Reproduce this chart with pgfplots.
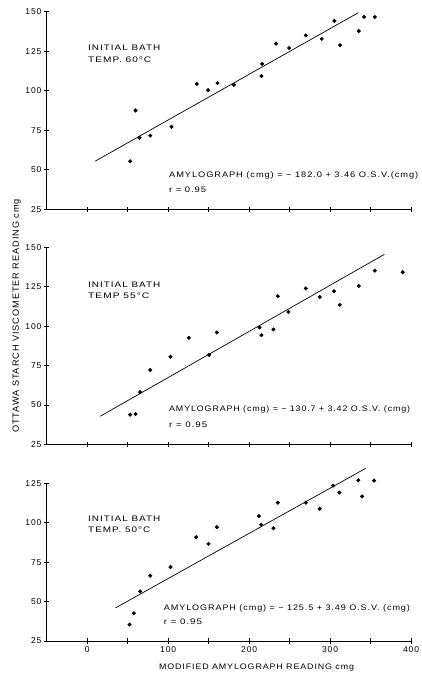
\documentclass[border=0pt]{standalone}
\usepackage{graphicx}
\usepackage{pgfplots}
\pgfplotsset{compat=1.18}
\usepackage{fontspec}
\setmainfont{Liberation Sans}[LetterSpace=10]
\newcommand{\fitw}[2]{\resizebox{#1}{\height}{#2}}
\begin{document}
\fontsize{8}{9}\selectfont
\pgfplotsset{
  panel/.style={
    scale only axis, width=364.3pt,
    axis lines=left, axis line style={-, line width=0.7pt},
    xmin=-50, xmax=400, ymin=25,
    xtick={0,50,...,400},
    tick align=center, major tick length=5pt,
    tick style={line width=0.7pt, black},
    every tick label/.append style={font=\fontsize{8.5}{9}\selectfont},
    /pgf/number format/assume math mode=true,
    clip=false,
  },
  pts/.style={only marks, mark=*, mark size=1.8pt, black},
  fit/.style={no marks, black, line width=0.7pt},
}
\tikzset{lab/.style={anchor=west, align=left, inner sep=0pt, font=\fontsize{8}{11.7}\selectfont}}
\begin{tikzpicture}[x=1pt,y=1pt]
\useasboundingbox (0,0) rectangle (415,674);
% ---- top panel (60 C)
\begin{axis}[panel, at={(40.7pt,464.7pt)}, anchor=south west, height=197.6pt,
  ymax=150, ytick={25,50,...,150}, xticklabels={}]
\addplot[pts] coordinates {
(53,55.4)(59.7,87.5)(64.6,70.2)(77.8,71.6)(104.1,77.2)(135.4,104.3)(149.4,100.4)
(160.9,104.8)(181.1,103.7)(215.2,109.3)(216,117)(233.3,129.8)(249.4,127)
(270,135)(289.7,132.8)(305.3,144.2)(312.3,128.8)(335.4,137.8)(342,146.7)(355.2,146.6)};
\addplot[fit] coordinates {(10,55.5)(335,149.4)};
\node[lab] at (axis cs:1,123.4) {\fitw{72pt}{INITIAL BATH}\\\fitw{63pt}{TEMP. 60°C}};
\node[lab] at (axis cs:101,46.7) {\fitw{249pt}{AMYLOGRAPH (cmg) = − 182.0 + 3.46 O.S.V.(cmg)}};
\node[lab] at (axis cs:101,37.2) {\fitw{37pt}{r = 0.95}};
\end{axis}
% ---- middle panel (55 C)
\begin{axis}[panel, at={(40.7pt,229.5pt)}, anchor=south west, height=197.2pt,
  ymax=150, ytick={25,50,...,150}, xticklabels={}]
\addplot[pts] coordinates {
(53.1,43.9)(59.7,44.3)(65.4,58.2)(77.8,72.2)(102.9,80.6)(125.5,92.6)(150.6,81.8)
(160.1,96)(212.8,99.2)(215.2,94.3)(230,97.9)(235.4,119)(248.5,109)(270,123.9)
(287.2,118.5)(304.9,122.2)(311.9,113.5)(335.4,125.5)(355.2,135.2)(389.7,134.2)};
\addplot[fit] coordinates {(16,42.9)(367,145.5)};
\node[lab] at (axis cs:1,122.8) {\fitw{72pt}{INITIAL BATH}\\\fitw{61pt}{TEMP 55°C}};
\node[lab] at (axis cs:101,47.5) {\fitw{241pt}{AMYLOGRAPH (cmg) = − 130.7 + 3.42 O.S.V. (cmg)}};
\node[lab] at (axis cs:101,37.3) {\fitw{38pt}{r = 0.95}};
\end{axis}
% ---- bottom panel (50 C)
\begin{axis}[panel, at={(40.7pt,33pt)}, anchor=south west, height=157.7pt,
  ymax=125, ytick={25,50,...,125}, xticklabels={0,,100,,200,,300,,400}]
\addplot[pts] coordinates {
(52.3,35.4)(57.6,42.6)(65.4,56.4)(77.8,66.4)(102.9,71.9)(134.6,90.8)(149.8,86.6)
(160.1,97.2)(212,104.2)(214.8,98.7)(230,96.5)(235.4,112.7)(270,112.7)(287.2,108.9)
(303.7,123.5)(311.5,119.1)(334.9,126.9)(339.5,116.7)(354.3,126.7)};
\addplot[fit] coordinates {(35,46.0)(344,134.5)};
\node[lab] at (axis cs:1,99) {\fitw{72pt}{INITIAL BATH}\\\fitw{62pt}{TEMP. 50°C}};
\node[lab] at (axis cs:94.5,45.4) {\fitw{246pt}{AMYLOGRAPH (cmg) = − 125.5 + 3.49 O.S.V. (cmg)}};
\node[lab] at (axis cs:94.5,37.1) {\fitw{38pt}{r = 0.95}};
\end{axis}
\node[rotate=90, inner sep=0pt, font=\fontsize{9}{10}\selectfont] at (10.5,358) {\fitw{234pt}{OTTAWA STARCH VISCOMETER READING cmg}};
\node[inner sep=0pt] at (250.5,6) {\fitw{195pt}{MODIFIED AMYLOGRAPH READING cmg}};
\end{tikzpicture}
\end{document}
